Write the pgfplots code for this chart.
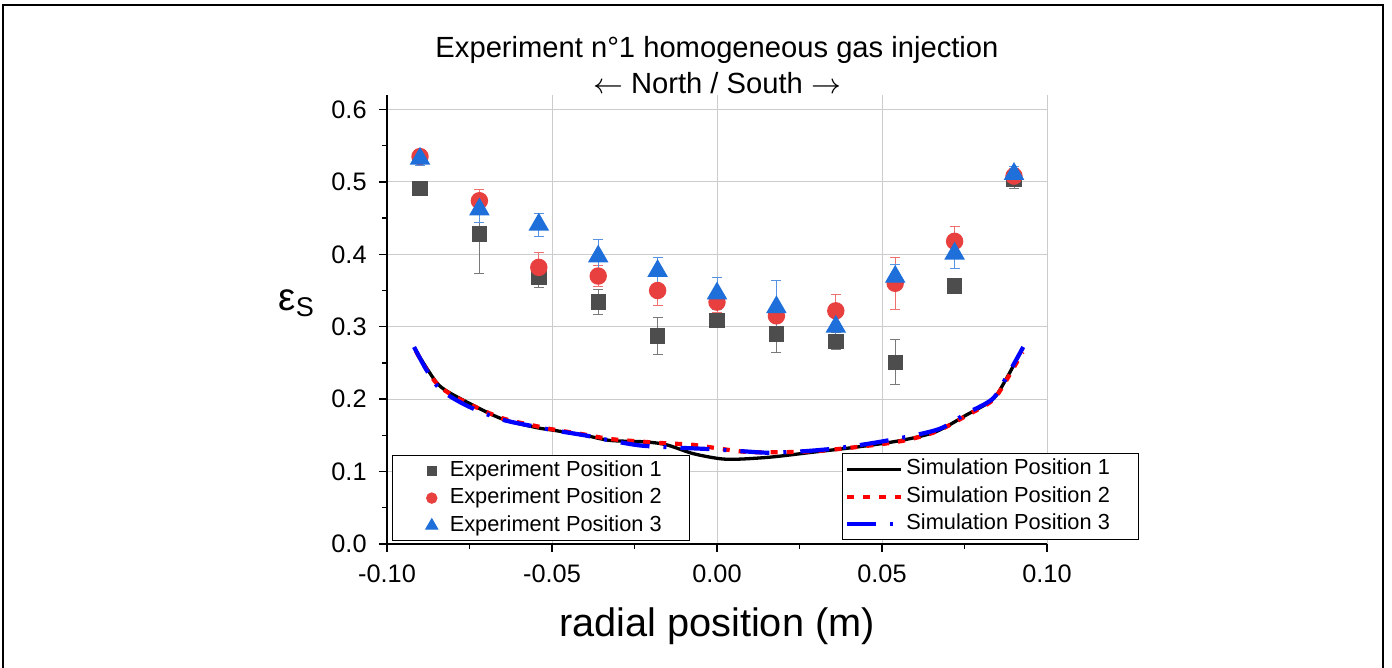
\documentclass[border=0pt]{standalone}
\usepackage{pgfplots}
\pgfplotsset{compat=1.18}
\usepackage{pgfplotstable}
\usepackage{fontspec}
\setmainfont{Liberation Sans}

\definecolor{expgray}{HTML}{4D4D4D}
\definecolor{expred}{HTML}{E8403F}
\definecolor{expblue}{HTML}{1E6FD9}

% experiment: x, mean, error
\pgfplotstableread{
x y e
-0.090 0.491 0.004
-0.072 0.428 0.055
-0.054 0.368 0.014
-0.036 0.334 0.017
-0.018 0.287 0.026
 0.000 0.309 0.005
 0.018 0.290 0.026
 0.036 0.280 0.012
 0.054 0.251 0.031
 0.072 0.356 0.008
 0.090 0.503 0.012
}\expone
\pgfplotstableread{
x y e
-0.090 0.535 0.010
-0.072 0.474 0.015
-0.054 0.382 0.020
-0.036 0.370 0.015
-0.018 0.350 0.020
 0.000 0.334 0.015
 0.018 0.315 0.015
 0.036 0.322 0.023
 0.054 0.360 0.036
 0.072 0.418 0.021
 0.090 0.508 0.010
}\exptwo
\pgfplotstableread{
x y e
-0.090 0.532 0.010
-0.072 0.462 0.018
-0.054 0.441 0.016
-0.036 0.397 0.024
-0.018 0.377 0.018
 0.000 0.346 0.022
 0.018 0.327 0.037
 0.036 0.300 0.030
 0.054 0.369 0.017
 0.072 0.401 0.020
 0.090 0.511 0.010
}\expthree

\pgfplotsset{
  common/.style={
    scale only axis, width=66mm, height=44.9mm,
    at={(38.7mm,12.4mm)}, anchor=south west,
    xmin=-0.1, xmax=0.1, ymin=0, ymax=0.62,
  },
  expleg/.style={legend image code/.code={\path[draw=none, fill=none] (0mm,0mm) -- (3.9mm,0mm);
    \draw[##1, mark options={scale=0.65}] plot[only marks] coordinates {(2.4mm,0mm)};}},
  experr/.style={
    error bars/error bar style={#1!75, line width=0.1mm},
    error bars/error mark options={rotate=90, #1!75, line width=0.1mm, mark size=0.5mm}},
}

\begin{document}
\begin{tikzpicture}
\useasboundingbox (0,0) rectangle (139.2mm,66.8mm);
\draw[line width=0.18mm] (0.28mm,-2mm) rectangle (138.3mm,66.28mm);

\begin{axis}[common,
  axis lines=left, axis line style={-, line width=0.16mm},
  xtick={-0.1,-0.05,...,0.1}, ytick={0,0.1,...,0.6},
  minor x tick num=1, minor y tick num=1,
  tick align=outside, tick style={black, line width=0.14mm},
  major tick length=0.8mm, minor tick length=0.5mm,
  grid=major, major grid style={gray!40, line width=0.1mm},
  /pgf/number format/assume math mode=true,
  ticklabel style={font=\fontsize{7.2}{8}\selectfont},
  xticklabel style={/pgf/number format/.cd, fixed, fixed zerofill, precision=2},
  yticklabel style={/pgf/number format/.cd, fixed, fixed zerofill, precision=1},
  scaled ticks=false,
  xlabel={radial position (m)},
  xlabel style={font=\fontsize{11.3}{13}\selectfont, at={(axis description cs:0.5,-0.207)}, anchor=base},
  ylabel={ε\textsubscript{S}},
  ylabel style={font=\fontsize{11}{13}\selectfont, rotate=-90, at={(axis description cs:-0.136,0.536)}, anchor=center},
  title={Experiment n°1 homogeneous gas injection\\$\leftarrow$ North / South $\rightarrow$},
  title style={font=\fontsize{8.3}{10.5}\selectfont, align=center, at={(axis description cs:0.5,1)}, anchor=south, inner sep=0pt, yshift=-2.1mm},
  legend style={at={(0.008,0.007)}, anchor=south west, draw=black, line width=0.1mm,
    inner xsep=1.5mm, inner ysep=0.1mm, row sep=0pt,
    nodes={inner xsep=0.3mm, inner ysep=0.3mm, text height=1.65mm, text depth=0.5mm},
    font=\fontsize{6.2}{7}\selectfont},
  legend cell align=left,
  error bars/y dir=both, error bars/y explicit,
]
\addplot[only marks, mark=square*, mark size=0.7mm, color=expgray, expleg, experr=expgray]
  table[x=x, y=y, y error=e] {\expone};
\addlegendentry{\makebox[22.2mm][l]{Experiment Position 1}}
\addplot[only marks, mark=*, mark size=0.8mm, color=expred, expleg, experr=expred]
  table[x=x, y=y, y error=e] {\exptwo};
\addlegendentry{\makebox[22.2mm][l]{Experiment Position 2}}
\addplot[only marks, mark=triangle*, mark size=1.05mm, color=expblue, expleg, experr=expblue]
  table[x=x, y=y, y error=e] {\expthree};
\addlegendentry{\makebox[22.2mm][l]{Experiment Position 3}}
\end{axis}

\begin{axis}[common, hide axis,
  legend style={at={(0.689,0.009)}, anchor=south west, draw=black, line width=0.1mm,
    inner xsep=0.3mm, inner ysep=0.15mm, row sep=0pt,
    nodes={inner xsep=0.3mm, inner ysep=0.3mm, text height=1.65mm, text depth=0.5mm},
    font=\fontsize{6.2}{7}\selectfont},
  legend cell align=left,
  legend image code/.code={\draw[#1] (0mm,0mm) -- (5.4mm,0mm);},
]
\addplot[black, line width=0.33mm, smooth] coordinates {
(-0.0916,0.270) (-0.088,0.243) (-0.0837,0.217) (-0.0758,0.196) (-0.0653,0.173)
(-0.055,0.161) (-0.0495,0.157) (-0.040,0.150) (-0.0324,0.143) (-0.0218,0.141)
(-0.0153,0.137) (-0.0074,0.125) (0.0005,0.118) (0.0058,0.117) (0.0163,0.120)
(0.0295,0.127) (0.0426,0.134) (0.0558,0.143) (0.0663,0.155) (0.0755,0.178)
(0.0834,0.199) (0.0874,0.226) (0.0926,0.270)};
\addlegendentry{\makebox[22.6mm][l]{Simulation Position 1}}
\addplot[red, line width=0.42mm, dash pattern=on 0.7mm off 0.9mm, smooth] coordinates {
(-0.0912,0.266) (-0.088,0.241) (-0.0837,0.216) (-0.0758,0.195) (-0.0653,0.174)
(-0.055,0.163) (-0.0495,0.158) (-0.040,0.151) (-0.0324,0.145) (-0.0218,0.141)
(-0.0153,0.139) (-0.0074,0.137) (0.0018,0.131) (0.0097,0.127) (0.024,0.127)
(0.0295,0.128) (0.0426,0.134) (0.0558,0.142) (0.0663,0.155) (0.0755,0.177)
(0.0834,0.198) (0.0874,0.224) (0.0926,0.265)};
\addlegendentry{\makebox[22.6mm][l]{Simulation Position 2}}
\addplot[blue, line width=0.42mm, dash pattern=on 2.9mm off 1.4mm on 0.3mm off 1.4mm, smooth] coordinates {
(-0.0918,0.272) (-0.088,0.240) (-0.0837,0.213) (-0.0758,0.191) (-0.0653,0.172)
(-0.055,0.162) (-0.0495,0.157) (-0.040,0.150) (-0.0324,0.143) (-0.0232,0.136)
(-0.0120,0.133) (-0.002,0.131) (0.008,0.128) (0.016,0.126) (0.026,0.128)
(0.036,0.132) (0.048,0.140) (0.0597,0.150) (0.0680,0.160) (0.0755,0.180)
(0.0834,0.200) (0.0874,0.228) (0.0928,0.272)};
\addlegendentry{\makebox[22.6mm][l]{Simulation Position 3}}
\end{axis}
\end{tikzpicture}
\end{document}
